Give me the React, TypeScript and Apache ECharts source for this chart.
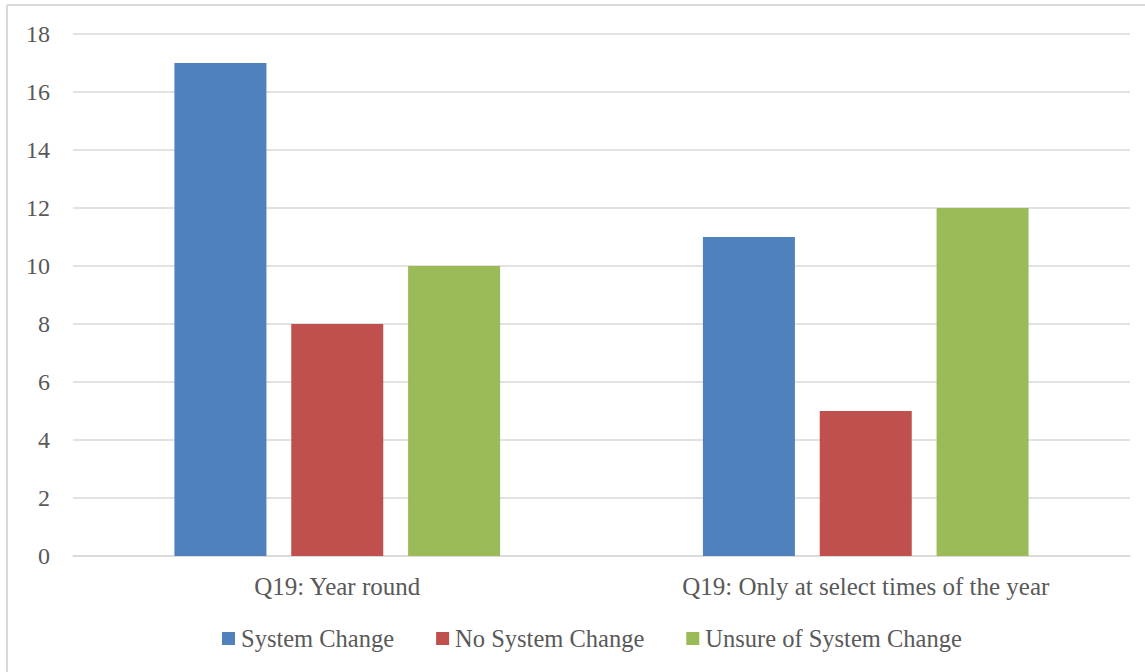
import React, { useEffect, useRef } from "react";
import * as echarts from "echarts";

const categories = ["Q19: Year round", "Q19: Only at select times of the year"];
const systemChange = [17, 11];
const noSystemChange = [8, 5];
const unsureOfSystemChange = [10, 12];
const yTicks = { min: 0, max: 18, interval: 2 };

const FONT = "'Liberation Serif', 'Times New Roman', serif";
const TEXT = "#595959";

export default function App() {
  const ref = useRef<HTMLDivElement>(null);

  useEffect(() => {
    if (!ref.current) return;
    const chart = echarts.init(ref.current, null, { renderer: "svg" });
    const bar = (name: string, data: number[], color: string) => ({
      name,
      type: "bar",
      data,
      barWidth: 92,
      barGap: "27%",
      itemStyle: { color },
    });
    chart.setOption({
      animation: false,
      backgroundColor: "#ffffff",
      textStyle: { fontFamily: FONT },
      graphic: [
        { type: "line", shape: { x1: 7, y1: 5, x2: 7, y2: 672 }, style: { stroke: "#d9d9d9", lineWidth: 2 } },
        { type: "line", shape: { x1: 7, y1: 5, x2: 1145, y2: 5 }, style: { stroke: "#d9d9d9", lineWidth: 2 } },
      ],
      grid: { left: 73, right: 15, top: 34, bottom: 116 },
      legend: {
        top: 621,
        left: 217,
        itemWidth: 13,
        itemHeight: 13,
        itemGap: 42,
        icon: "rect",
        textStyle: { color: TEXT, fontSize: 24.5, fontFamily: FONT, padding: [0, 0, 0, 1] },
        data: ["System Change", "No System Change", "Unsure of System Change"],
      },
      xAxis: {
        type: "category",
        data: categories,
        axisLine: { lineStyle: { color: "#d9d9d9", width: 1.5 } },
        axisTick: { show: false },
        axisLabel: { color: TEXT, fontSize: 25, fontFamily: FONT, margin: 18 },
      },
      yAxis: {
        type: "value",
        min: yTicks.min,
        max: yTicks.max,
        interval: yTicks.interval,
        axisLine: { show: false },
        axisTick: { show: false },
        axisLabel: { color: TEXT, fontSize: 24, fontFamily: FONT, margin: 23 },
        splitLine: { lineStyle: { color: "#d9d9d9", width: 1.5 } },
      },
      series: [
        bar("System Change", systemChange, "#4f81bd"),
        bar("No System Change", noSystemChange, "#c0504d"),
        bar("Unsure of System Change", unsureOfSystemChange, "#9bbb59"),
      ],
    });
    return () => chart.dispose();
  }, []);

  return (
    <div
      ref={ref}
      style={{ position: "absolute", left: 0, top: 0, width: 1145, height: 672 }}
    />
  );
}
